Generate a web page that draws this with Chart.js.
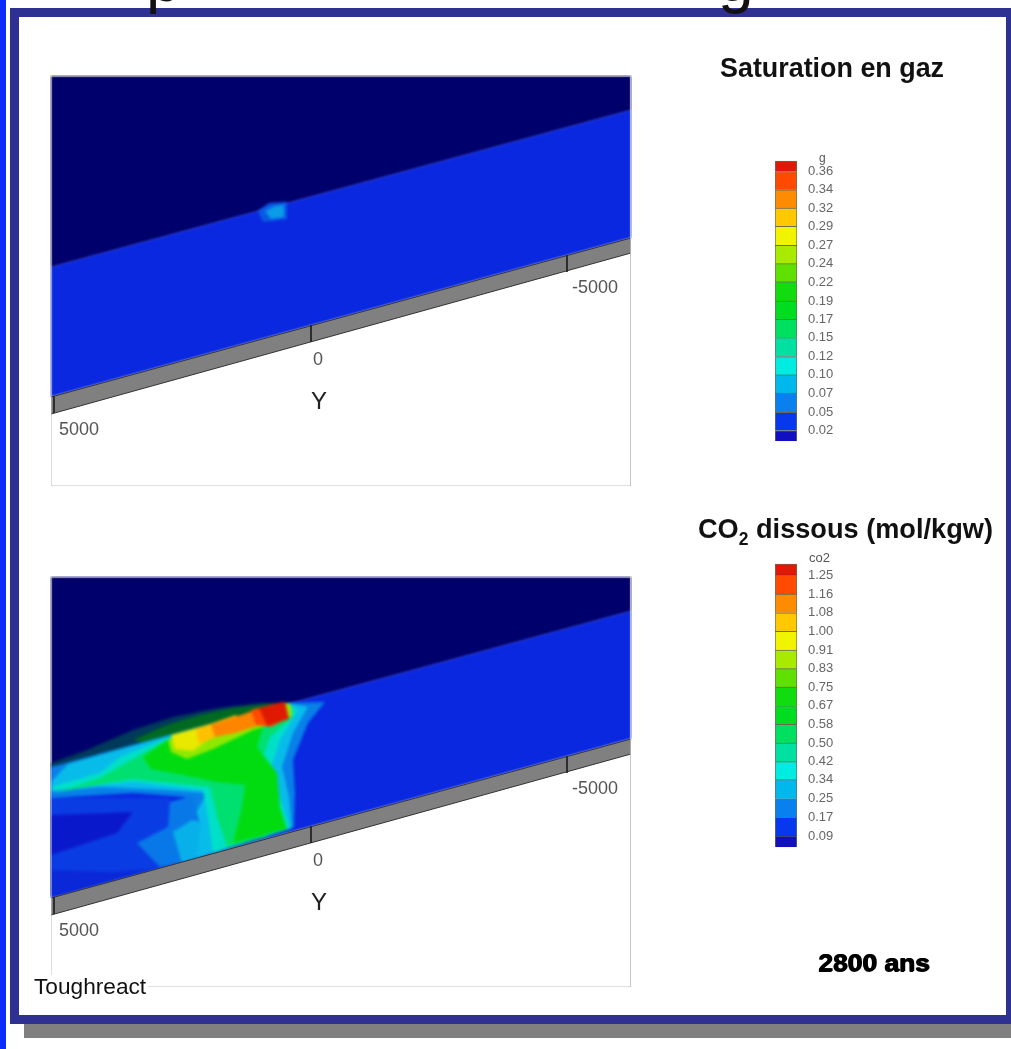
<!DOCTYPE html>
<html>
<head>
<meta charset="utf-8">
<script src="https://cdn.jsdelivr.net/npm/chart.js@4"></script>
<style>
html,body{margin:0;padding:0;background:#fff;width:1011px;height:1049px;overflow:hidden;font-family:"Liberation Sans",sans-serif}
.abs{position:absolute;white-space:nowrap}
canvas{position:absolute;display:block;left:0;top:0}
.wrap{position:absolute;width:582px;height:412px;overflow:hidden}
.base{filter:blur(.8px)}
.soft{filter:blur(1.8px)}
.top{filter:blur(.6px)}
.bar{filter:blur(.6px)}
</style>
</head>
<body>
<div class="abs" style="left:24px;top:1020px;width:987px;height:18px;background:#808080"></div>
<div class="abs" style="left:0;top:0;width:6px;height:1049px;background:#0d2dfb"></div>
<div class="abs" style="left:10px;top:8px;width:987px;height:998px;border:9px solid #2e3192"></div>
<div class="abs" style="left:146px;top:-53px;font-size:64px;line-height:64px;color:#111">p</div>
<div class="abs" style="left:718px;top:-53px;font-size:64px;line-height:64px;color:#111">g</div>

<div class="wrap" style="left:50px;top:75px">
  <canvas id="gasBase" class="base" width="582" height="412"></canvas>
  <canvas id="gasSoft" class="soft" width="582" height="412"></canvas>
  <canvas id="gasTop" class="top" width="582" height="412"></canvas>
</div>
<div class="wrap" style="left:50px;top:576px">
  <canvas id="co2Base" class="base" width="582" height="412"></canvas>
  <canvas id="co2Soft" class="soft" width="582" height="412"></canvas>
  <canvas id="co2Top" class="top" width="582" height="412"></canvas>
</div>
<canvas id="barGas" class="bar" width="84" height="302" style="left:773px;top:150px"></canvas>
<canvas id="barCo2" class="bar" width="84" height="305" style="left:773px;top:553px"></canvas>

<div class="abs" style="left:720px;top:52px;font-size:28px;font-weight:bold;color:#111;transform:scaleX(.96);transform-origin:left">Saturation en gaz</div>
<div class="abs" style="left:698px;top:513px;font-size:28px;font-weight:bold;color:#111;transform:scaleX(.97);transform-origin:left">CO<sub style="font-size:18px;line-height:0">2</sub> dissous (mol/kgw)</div>
<div class="abs" style="left:819px;top:151px;font-size:12px;color:#555">g</div>
<div class="abs" style="left:809px;top:550px;font-size:13px;color:#555">co2</div>
<div class="abs" style="left:818px;top:949px;font-size:24px;font-weight:bold;color:#000;text-shadow:1px 0 0 #000,0 1px 0 #000;transform:scaleX(1.1);transform-origin:left;filter:blur(.6px)">2800 ans</div>
<div class="abs" style="left:34px;top:975px;padding-right:2px;font-size:22px;color:#111;background:#fff;height:24px;line-height:24px;transform:scaleX(1.03);transform-origin:left">Toughreact</div>

<script>
const navyPoly = [[0,0],[580,0],[580,34],[0,191]];
const bandPoly = [[0,191],[580,34],[580,162],[0,321]];
const greyPoly = [[0,321],[580,162],[580,177],[0,338]];
const bandTicks = [[3,320,337],[260,249,266],[516,179,196]];
const framePoly = [[0,0],[580,0],[580,410],[0,410],[0,0]];

const axisLabels = ['5000','0','-5000','Y'];
const axisLabelX = [28,267,544,268];
const axisLabelY = [354,284,212,326];

const gasSpotColors = ['#0a5ae4','#0a9ce8'];
const gasSpots = [
  [[207,135],[218,127],[236,126],[236,143],[212,146]],
  [[214,135],[224,130],[233,129],[233,141],[220,143]]
];

const co2Colors = ['#003a5a','#006b20','#0880e8','#08bcea','#00e0c8','#00e070','#0a3ce4','#0878e8','#08b0ea','#0a18cc','#0a28d8',
  '#00dc10','#90e800','#e8e800','#ffc000','#ff8400','#ff4a00','#e01a00'];
const co2Contours = [
  [[0,186],[36,173],[82,153],[122,140],[166,131],[209,126],[236,126],[236,143],[116,173],[0,200]],
  [[82,163],[116,148],[149,138],[182,131],[216,127],[232,126],[232,143],[116,170]],
  [[0,190],[236,126],[274,125],[257,146],[242,183],[244,216],[243,250],[136,285],[122,255],[141,243],[134,220],[82,216],[0,221]],
  [[17,187],[66,173],[236,126],[257,130],[242,156],[231,190],[238,220],[241,251],[146,281],[141,243],[156,216],[116,213],[49,210],[0,215],[0,205]],
  [[0,210],[49,196],[69,180],[116,161],[236,126],[247,133],[229,163],[219,193],[232,230],[239,252],[162,276],[157,240],[152,213],[82,205],[0,213]],
  [[4,216],[49,201],[92,176],[116,163],[236,126],[242,140],[219,160],[206,196],[212,230],[216,260],[176,270],[166,240],[159,210],[82,202],[32,210]],
  [[0,221],[119,221],[129,286],[0,320]],
  [[119,225],[141,219],[149,246],[136,285],[109,290],[86,266],[117,250]],
  [[122,255],[141,243],[150,245],[146,281],[131,286]],
  [[0,238],[82,235],[66,256],[0,278]],
  [[0,293],[60,295],[100,292],[0,320]],
  [[92,180],[116,163],[236,126],[236,143],[212,150],[206,170],[226,196],[229,230],[236,252],[182,266],[191,230],[194,208],[166,205],[142,200],[100,192]],
  [[117,163],[236,126],[240,128],[241,138],[236,143],[202,153],[162,172],[136,182],[120,175]],
  [[120,158],[160,147],[166,156],[142,174],[124,172]],
  [[145,152],[185,138],[192,148],[160,162],[148,167]],
  [[160,148],[205,133],[216,146],[184,156],[164,160]],
  [[200,133],[232,125],[237,141],[220,150],[205,148]],
  [[208,131],[234,125],[238,142],[216,149]]
];

const legendColors = ['#1010c0','#0838ee','#0880ee','#00b8ec','#00ece0','#00e0a0','#00e060','#00dc20','#10dc10','#60e000','#a8ea00','#f0f400','#ffc800','#ff8c00','#ff4a00','#e01808'];
const gasLevels = [0.024,0.048,0.073,0.097,0.121,0.146,0.170,0.194,0.219,0.243,0.267,0.292,0.316,0.340,0.364];
const co2Levels = [0.087,0.170,0.252,0.337,0.417,0.500,0.583,0.666,0.748,0.830,0.913,0.996,1.078,1.161,1.246];
const gasRange = [0.010,0.378];
const co2Range = [0.037,1.296];

function pts(list){ return list.map(p => ({x:p[0], y:p[1]})); }

function shape(list, color, extra){
  return Object.assign({data:pts(list), showLine:true, fill:'shape', backgroundColor:color, borderColor:color,
    borderWidth:0, pointRadius:0, tension:0}, extra || {});
}

function outline(list, color){
  return {data:pts(list), showLine:true, fill:false, borderColor:color, borderWidth:1, pointRadius:0, tension:0};
}

const axisTextPlugin = {
  id:'axisText',
  afterDatasetsDraw(chart){
    const ctx = chart.ctx, sx = chart.scales.x, sy = chart.scales.y;
    ctx.save();
    ctx.textAlign = 'center';
    ctx.textBaseline = 'middle';
    axisLabels.forEach((t,i) => {
      ctx.font = t === 'Y' ? '24px "Liberation Sans"' : '18px "Liberation Sans"';
      ctx.fillStyle = t === 'Y' ? '#222' : '#555';
      ctx.fillText(t, sx.getPixelForValue(axisLabelX[i]), sy.getPixelForValue(axisLabelY[i]));
    });
    ctx.restore();
  }
};

function layer(id, sets, plugins){
  // first dataset draws on top in chart.js, so number them backwards
  sets.forEach((s,i) => { s.order = sets.length - i; });
  new Chart(document.getElementById(id), {
    type:'scatter',
    data:{datasets:sets},
    plugins:plugins || [],
    options:{
      responsive:false, animation:false, events:[],
      layout:{padding:1},
      plugins:{legend:{display:false}, tooltip:{enabled:false}},
      scales:{
        x:{type:'linear', min:0, max:580, display:false},
        y:{type:'linear', min:0, max:410, reverse:true, display:false}
      }
    }
  });
}

function makePanel(name, polys, colors){
  layer(name + 'Base', [shape(navyPoly,'#00006c'), shape(bandPoly,'#0a28e0')]);
  layer(name + 'Soft', polys.map((p,i) => shape(p, colors[i])));
  const top = [shape(greyPoly,'#808080',{borderColor:'#333',borderWidth:1})];
  bandTicks.forEach(t => top.push(outline([[t[0],t[1]],[t[0],t[2]]],'#222')));
  top.push(outline(framePoly,'#bdbdbd'));
  layer(name + 'Top', top, [axisTextPlugin]);
}

function makeLegend(id, levels, range, padTop, padBottom){
  const edges = [range[0]].concat(levels, [range[1]]);
  const sets = legendColors.map((c,i) => ({
    data:[[edges[i], edges[i+1]]],
    backgroundColor:c, borderColor:'rgba(50,50,20,.7)', borderWidth:1,
    barPercentage:1, categoryPercentage:1, grouped:false
  }));
  new Chart(document.getElementById(id), {
    type:'bar',
    data:{labels:[''], datasets:sets},
    options:{
      responsive:false, animation:false, events:[],
      layout:{padding:{left:2, top:padTop, bottom:padBottom, right:0}},
      plugins:{legend:{display:false}, tooltip:{enabled:false}},
      scales:{
        x:{display:false},
        y:{
          position:'right', min:range[0], max:range[1],
          grid:{display:false}, border:{display:false},
          afterFit(s){ s.width = 60; },
          afterBuildTicks(s){ s.ticks = levels.map(v => ({value:v})); },
          ticks:{
            padding:3, color:'#666', autoSkip:false, maxRotation:0,
            font:{size:13, family:'"Liberation Sans"'},
            callback:v => v.toFixed(2)
          }
        }
      }
    }
  });
}

makePanel('gas', gasSpots, gasSpotColors);
makePanel('co2', co2Contours, co2Colors);
makeLegend('barGas', gasLevels, gasRange, 2, 1);
makeLegend('barCo2', co2Levels, co2Range, 2, 2);
</script>
</body>
</html>
